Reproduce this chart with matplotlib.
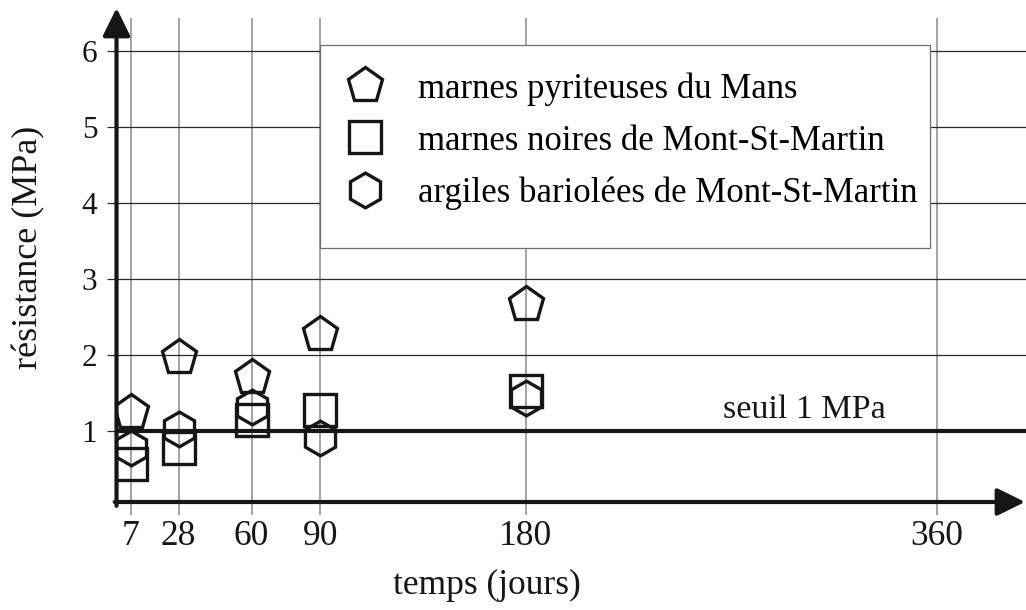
import matplotlib
matplotlib.use('Agg')
import matplotlib.pyplot as plt
from matplotlib.patches import Rectangle

plt.rcParams['font.family'] = ['Liberation Serif', 'DejaVu Serif']

# temps (jours)
days = [7, 28, 60, 90, 180]
x_ticks = [7, 28, 60, 90, 180, 360]
y_ticks = [1, 2, 3, 4, 5, 6]

# résistance (MPa)
pyriteuses_mans = [1.245, 1.98, 1.71, 2.27, 2.67]
noires_mont_st_martin = [0.565, 0.775, 1.145, 1.28, 1.53]
bariolees_mont_st_martin = [0.78, 1.02, 1.31, 0.91, 1.44]

labels = ['marnes pyriteuses du Mans',
          'marnes noires de Mont-St-Martin',
          'argiles bariolées de Mont-St-Martin']
seuil = 1.0

ink = '#161616'

fig = plt.figure(figsize=(10.26, 6.10), dpi=100)
ax = fig.add_axes([114.7 / 1026, 108 / 610, 911.3 / 1026, 484 / 610])
ax.set_xlim(0, 399.2)
ax.set_ylim(0.066, 6.434)

for s in ax.spines.values():
    s.set_visible(False)

ax.set_xticks(x_ticks)
ax.set_yticks(y_ticks)
ax.set_xticklabels([str(v) for v in x_ticks])
ax.set_yticklabels([str(v) for v in y_ticks])
ax.tick_params(axis='x', length=9.4, width=1.1, color='#8a8a8a', pad=3.6,
               labelsize=25.5, labelcolor=ink)
ax.tick_params(axis='y', length=5.5, width=0.9, color='#2a2a2a', pad=7,
               labelsize=22.5, labelcolor=ink)
ax.grid(axis='x', color='#8a8a8a', lw=1.1, zorder=0)
ax.grid(axis='y', color='#2a2a2a', lw=0.9, zorder=0)
ax.set_axisbelow(True)

mk = dict(ls='none', mfc='none', mec=ink, mew=2.4, zorder=3)
h1, = ax.plot(days, pyriteuses_mans, marker='p', ms=26, **mk)
h2, = ax.plot(days, noires_mont_st_martin, marker='s', ms=23, **mk)
h3, = ax.plot(days, bariolees_mont_st_martin, marker='h', ms=25, **mk)

# seuil
ax.axhline(seuil, color=ink, lw=3, zorder=4)
ax.text(302, 1.17, 'seuil 1 MPa', fontsize=24.5, color=ink, ha='center',
        va='baseline', zorder=5)

# axes with arrows
arrow = dict(arrowstyle='-|>,head_length=0.85,head_width=0.42', lw=3,
             color=ink, shrinkA=0, shrinkB=0, mutation_scale=20)
ax.annotate('', xy=(0.9989, 0.0), xytext=(0.0, 0.0), xycoords='axes fraction',
            arrowprops=arrow, annotation_clip=False, zorder=6)
ax.annotate('', xy=(0.002, 1.0207), xytext=(0.002, -0.008),
            xycoords='axes fraction', arrowprops=arrow,
            annotation_clip=False, zorder=6)

ax.set_xlabel('temps (jours)', fontsize=25.5, color=ink)
ax.xaxis.set_label_coords(0.4085, -0.138)
ax.set_ylabel('résistance (MPa)', fontsize=26, color=ink)
ax.yaxis.set_label_coords(-0.076, 0.527)

# legend box
fig.patches.append(Rectangle((320 / 1026, (610 - 248) / 610), 610 / 1026, 203 / 610,
                             transform=fig.transFigure, fc='white',
                             ec='#6e6e6e', lw=0.9, zorder=7))
leg = fig.legend([h1, h2, h3], labels, loc='upper left',
                 bbox_to_anchor=(347.6 / 1026, (610 - 72) / 610),
                 frameon=False, fontsize=25, labelspacing=0.55,
                 handlelength=1.0, handletextpad=1.03, borderpad=0,
                 borderaxespad=0, markerscale=1.0)
leg.set_zorder(8)

fig.savefig('out.png', dpi=100)
